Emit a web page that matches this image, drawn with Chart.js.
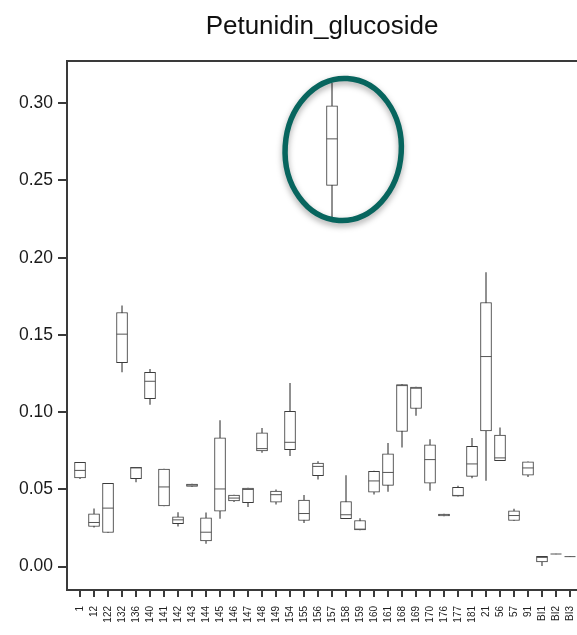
<!DOCTYPE html>
<html>
<head>
<meta charset="utf-8">
<script src="https://cdn.jsdelivr.net/npm/chart.js@4.4.1/dist/chart.umd.min.js"></script>
<style>
  body { margin: 0; background: #fff; }
  canvas { display: block; }
</style>
</head>
<body>
<canvas id="boxChart" width="577" height="635"></canvas>
<script>
const categories = ['1', '12', '122', '132', '136', '140', '141', '142', '143', '144', '145', '146',
    '147', '148', '149', '154', '155', '156', '157', '158', '159', '160', '161', '168', '169', '170',
    '176', '177', '181', '21', '56', '57', '91', 'BI1', 'BI2', 'BI3'];

// whisker ends, quartiles and medians
const whiskerLow = [0.057, 0.0255, 0.0221, 0.126, 0.0548, 0.105, 0.0394, 0.0262, 0.052, 0.015, 0.0312, 0.042,
    0.0388, 0.074, 0.0405, 0.0719, 0.0284, 0.0567, 0.2247, 0.031, 0.0238, 0.047, 0.0487, 0.0773, 0.0979, 0.0494,
    0.0329, 0.0457, 0.0575, 0.0558, 0.0686, 0.0299, 0.0583, 0.0, 0.0082, 0.0065];
const q1 = [0.0574, 0.026, 0.0221, 0.132, 0.057, 0.1087, 0.0394, 0.0279, 0.052, 0.0167, 0.036, 0.0425,
    0.0414, 0.0749, 0.0418, 0.0758, 0.0299, 0.0589, 0.2468, 0.031, 0.0238, 0.0483, 0.0526, 0.0875, 0.1024, 0.0541,
    0.0329, 0.0457, 0.0584, 0.0879, 0.0686, 0.0299, 0.0593, 0.003, 0.0082, 0.0065];
const medians = [0.0623, 0.0286, 0.0379, 0.1505, 0.0639, 0.120, 0.0516, 0.0303, 0.0528, 0.0223, 0.0503, 0.0444,
    0.050, 0.0764, 0.0466, 0.0805, 0.0344, 0.0649, 0.2769, 0.0336, 0.0243, 0.0555, 0.061, 0.1172, 0.1155, 0.0693,
    0.0335, 0.0461, 0.0665, 0.136, 0.0704, 0.0331, 0.0639, 0.006, 0.0082, 0.0065];
const q3 = [0.0675, 0.0342, 0.0539, 0.1645, 0.0643, 0.1258, 0.0632, 0.0323, 0.0535, 0.0316, 0.0834, 0.0463,
    0.0509, 0.0866, 0.049, 0.1005, 0.0431, 0.0671, 0.2983, 0.0422, 0.0299, 0.0617, 0.073, 0.1178, 0.1162, 0.0788,
    0.034, 0.0513, 0.0779, 0.171, 0.0851, 0.0362, 0.0678, 0.0067, 0.0082, 0.0065];
const whiskerHigh = [0.0675, 0.0375, 0.0539, 0.1688, 0.0643, 0.1277, 0.0632, 0.035, 0.0535, 0.0349, 0.0946, 0.0463,
    0.0509, 0.0896, 0.0498, 0.1186, 0.0461, 0.068, 0.3128, 0.0589, 0.0312, 0.0619, 0.0799, 0.1178, 0.1162, 0.0823,
    0.034, 0.0522, 0.0831, 0.1903, 0.0899, 0.0373, 0.0678, 0.0067, 0.0082, 0.0065];
const yTicks = [0, 0.05, 0.10, 0.15, 0.20, 0.25, 0.30];
const highlighted = '157';

const axisColor = '#3a3a3a';
const font = 'Liberation Sans, Arial, Helvetica, sans-serif';

// teal ring around the highlighted box plus the top frame line
const frameAndRing = {
    id: 'frameAndRing',
    afterDatasetsDraw(chart) {
        const { ctx, chartArea, scales: { x, y } } = chart;
        ctx.save();
        ctx.strokeStyle = axisColor;
        ctx.lineWidth = 2;
        ctx.beginPath();
        ctx.moveTo(chartArea.left - 1, chartArea.top);
        ctx.lineTo(chartArea.right, chartArea.top);
        ctx.stroke();

        const i = categories.indexOf(highlighted);
        const cx = x.getPixelForValue(i + 0.8);
        const cy = y.getPixelForValue((whiskerLow[i] + whiskerHigh[i]) / 2 + 0.0013);
        const rx = x.getPixelForValue(i + 4.15) - x.getPixelForValue(i);
        const ry = y.getPixelForValue(0) - y.getPixelForValue(0.046);
        ctx.shadowColor = 'rgba(0,0,0,0.35)';
        ctx.shadowBlur = 6;
        ctx.shadowOffsetY = 3;
        ctx.strokeStyle = '#07655e';
        ctx.lineWidth = 5.5;
        ctx.beginPath();
        ctx.ellipse(cx, cy, rx, ry, 0.06, 0, Math.PI * 2);
        ctx.stroke();
        ctx.restore();
    }
};

const ctx = document.getElementById('boxChart');
new Chart(ctx, {
    type: 'bar',
    data: {
        datasets: [
            {
                label: 'whiskers',
                data: categories.map((c, i) => ({ x: i, y: [whiskerLow[i], whiskerHigh[i]] })),
                backgroundColor: '#7a7a7a',
                borderWidth: 0,
                barThickness: 1,
                grouped: false,
                order: 3,
            },
            {
                label: 'boxes',
                data: categories.map((c, i) => ({ x: i, y: [q1[i], q3[i]] })),
                backgroundColor: '#ffffff',
                borderColor: '#3c3c3c',
                borderWidth: 1,
                borderSkipped: false,
                barThickness: 11,
                grouped: false,
                order: 2,
            },
            {
                type: 'line',
                label: 'median',
                data: categories.map((c, i) => ({ x: i, y: medians[i] })),
                showLine: false,
                pointStyle: 'line',
                pointRadius: 5.5,
                pointHoverRadius: 5.5,
                borderColor: '#555555',
                borderWidth: 1,
                order: 1,
            }
        ]
    },
    options: {
        responsive: false,
        animation: false,
        layout: { padding: 0, autoPadding: false },
        scales: {
            x: {
                type: 'linear',
                offset: false,
                min: -0.93,
                max: 35.5,
                afterBuildTicks: (scale) => {
                    scale.ticks = categories.map((c, i) => ({ value: i }));
                },
                afterFit: (scale) => {
                    scale.height = 45;
                    scale.paddingLeft = 0;
                    scale.paddingRight = 0;
                },
                border: { display: true, color: axisColor, width: 2 },
                grid: { display: true, offset: false, drawOnChartArea: false, tickLength: 7, color: axisColor, lineWidth: 2 },
                ticks: {
                    autoSkip: false,
                    minRotation: 90,
                    maxRotation: 90,
                    padding: 9,
                    color: '#222',
                    font: { size: 10, family: font },
                    callback: (value) => categories[value]
                }
            },
            y: {
                min: -0.0151,
                max: 0.3273,
                afterBuildTicks: (scale) => {
                    scale.ticks = yTicks.map(v => ({ value: v }));
                },
                afterFit: (scale) => {
                    scale.width = 67;
                    scale.paddingTop = 0;
                    scale.paddingBottom = 0;
                },
                border: { display: true, color: axisColor, width: 2 },
                grid: { display: true, drawOnChartArea: false, tickLength: 9, color: axisColor, lineWidth: 2 },
                ticks: {
                    padding: 5,
                    color: '#1a1a1a',
                    font: { size: 17.5, family: font },
                    callback: (value) => value.toFixed(2)
                }
            }
        },
        plugins: {
            legend: { display: false },
            tooltip: { enabled: false },
            title: {
                display: true,
                fullSize: false,
                text: 'Petunidin_glucoside',
                color: '#111',
                font: { size: 26, family: font, weight: 'normal' },
                padding: { top: 11, bottom: 18.8 }
            }
        }
    },
    plugins: [frameAndRing]
});
</script>
</body>
</html>
